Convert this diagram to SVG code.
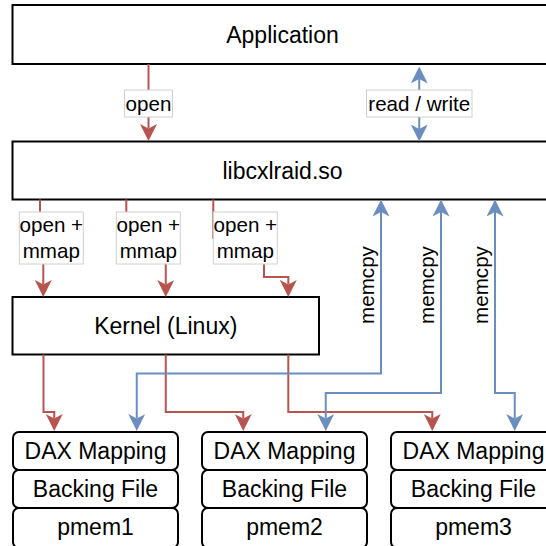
<svg xmlns="http://www.w3.org/2000/svg" width="546" height="546" viewBox="0 0 546 546">
  <style>
    .box { fill: #ffffff; stroke: #000000; stroke-width: 2; }
    .row { fill: #ffffff; stroke: #000000; stroke-width: 2; }
    .node-text { font-family: "Liberation Sans", Arial, sans-serif; font-size: 23px; fill: #000000; text-anchor: middle; }
    .lbl-bg { fill: #ffffff; stroke: #d0d0d0; stroke-width: 1; }
    .lbl { font-family: "Liberation Sans", Arial, sans-serif; font-size: 20.6px; fill: #000000; text-anchor: middle; }
    .red { fill: none; stroke: #b85450; stroke-width: 2; }
    .blue { fill: none; stroke: #6c8ebf; stroke-width: 2; }
  </style>
  <defs>
    <marker id="arrRed" viewBox="0 0 17 17" refX="4.5" refY="8.5" markerWidth="17" markerHeight="17" markerUnits="userSpaceOnUse" orient="auto-start-reverse">
      <path d="M0,0 L17,8.5 L0,17 L4.5,8.5 Z" fill="#b85450"/>
    </marker>
    <marker id="arrBlue" viewBox="0 0 17 17" refX="4.5" refY="8.5" markerWidth="17" markerHeight="17" markerUnits="userSpaceOnUse" orient="auto-start-reverse">
      <path d="M0,0 L17,8.5 L0,17 L4.5,8.5 Z" fill="#6c8ebf"/>
    </marker>
  </defs>

  <rect width="546" height="546" fill="#ffffff"/>

  <!-- nodes -->
  <g id="application">
    <rect class="box" x="12.5" y="5" width="540" height="59"/>
    <text class="node-text" x="282.5" y="42.5">Application</text>
  </g>
  <g id="libcxlraid">
    <rect class="box" x="12.5" y="141.5" width="540" height="58"/>
    <text class="node-text" x="282.5" y="178.5">libcxlraid.so</text>
  </g>
  <g id="kernel">
    <rect class="box" x="12.5" y="297" width="306.5" height="57.5"/>
    <text class="node-text" x="165.75" y="333.5">Kernel (Linux)</text>
  </g>

  <g id="dev1">
    <rect class="row" x="13" y="432" width="165" height="38" rx="6"/>
    <rect class="row" x="13" y="470" width="165" height="38" rx="6"/>
    <rect class="row" x="13" y="508" width="165" height="40" rx="6"/>
    <text class="node-text" x="95.5" y="459">DAX Mapping</text>
    <text class="node-text" x="95.5" y="497">Backing File</text>
    <text class="node-text" x="95.5" y="535">pmem1</text>
  </g>
  <g id="dev2">
    <rect class="row" x="202" y="432" width="165" height="38" rx="6"/>
    <rect class="row" x="202" y="470" width="165" height="38" rx="6"/>
    <rect class="row" x="202" y="508" width="165" height="40" rx="6"/>
    <text class="node-text" x="284.5" y="459">DAX Mapping</text>
    <text class="node-text" x="284.5" y="497">Backing File</text>
    <text class="node-text" x="284.5" y="535">pmem2</text>
  </g>
  <g id="dev3">
    <rect class="row" x="391" y="432" width="165" height="38" rx="6"/>
    <rect class="row" x="391" y="470" width="165" height="38" rx="6"/>
    <rect class="row" x="391" y="508" width="165" height="40" rx="6"/>
    <text class="node-text" x="473.5" y="459">DAX Mapping</text>
    <text class="node-text" x="473.5" y="497">Backing File</text>
    <text class="node-text" x="473.5" y="535">pmem3</text>
  </g>

  <!-- connectors -->
  <g id="connectors">
    <!-- Application -> libcxlraid -->
    <path class="red" d="M148.5,64 V128.5" marker-end="url(#arrRed)"/>
    <rect class="lbl-bg" x="124.5" y="90" width="48" height="27"/>
    <text class="lbl" x="148.5" y="110.6">open</text>

    <path class="blue" d="M419.25,79 V129" marker-start="url(#arrBlue)" marker-end="url(#arrBlue)"/>
    <rect class="lbl-bg" x="366.5" y="90" width="105.5" height="27"/>
    <text class="lbl" x="419.25" y="110.6">read / write</text>

    <!-- libcxlraid -> Kernel -->
    <path class="red" d="M40,199.5 V238 H43.3 V284.5" marker-end="url(#arrRed)"/>
    <path class="red" d="M126.3,199.5 V238 H165.75 V284.5" marker-end="url(#arrRed)"/>
    <path class="red" d="M213.3,199.5 V238 H264 V277 H288.3 V284.5" marker-end="url(#arrRed)"/>
    <rect class="lbl-bg" x="19.3" y="212" width="64" height="52"/>
    <text class="lbl" x="51.3" y="232">open +</text>
    <text class="lbl" x="51.3" y="258">mmap</text>
    <rect class="lbl-bg" x="116.3" y="212" width="64" height="52"/>
    <text class="lbl" x="148.3" y="232">open +</text>
    <text class="lbl" x="148.3" y="258">mmap</text>
    <rect class="lbl-bg" x="213.3" y="212" width="64" height="52"/>
    <text class="lbl" x="245.3" y="232">open +</text>
    <text class="lbl" x="245.3" y="258">mmap</text>

    <!-- Kernel -> DAX mappings -->
    <path class="red" d="M43.5,354.5 V412 H54.25 V418.5" marker-end="url(#arrRed)"/>
    <path class="red" d="M165.75,354.5 V412 H243.25 V418.5" marker-end="url(#arrRed)"/>
    <path class="red" d="M288.3,354.5 V412 H432.25 V418.5" marker-end="url(#arrRed)"/>

    <!-- libcxlraid <-> DAX mappings -->
    <path class="blue" d="M381,212 V373.5 H136.75 V418.5" marker-start="url(#arrBlue)" marker-end="url(#arrBlue)"/>
    <path class="blue" d="M441,212 V393 H325.75 V418.5" marker-start="url(#arrBlue)" marker-end="url(#arrBlue)"/>
    <path class="blue" d="M495,212 V393 H514.75 V418.5" marker-start="url(#arrBlue)" marker-end="url(#arrBlue)"/>
    <text class="lbl" transform="translate(373.5,285) rotate(-90)" x="0" y="0">memcpy</text>
    <text class="lbl" transform="translate(434,285) rotate(-90)" x="0" y="0">memcpy</text>
    <text class="lbl" transform="translate(488,285) rotate(-90)" x="0" y="0">memcpy</text>
  </g>
</svg>
